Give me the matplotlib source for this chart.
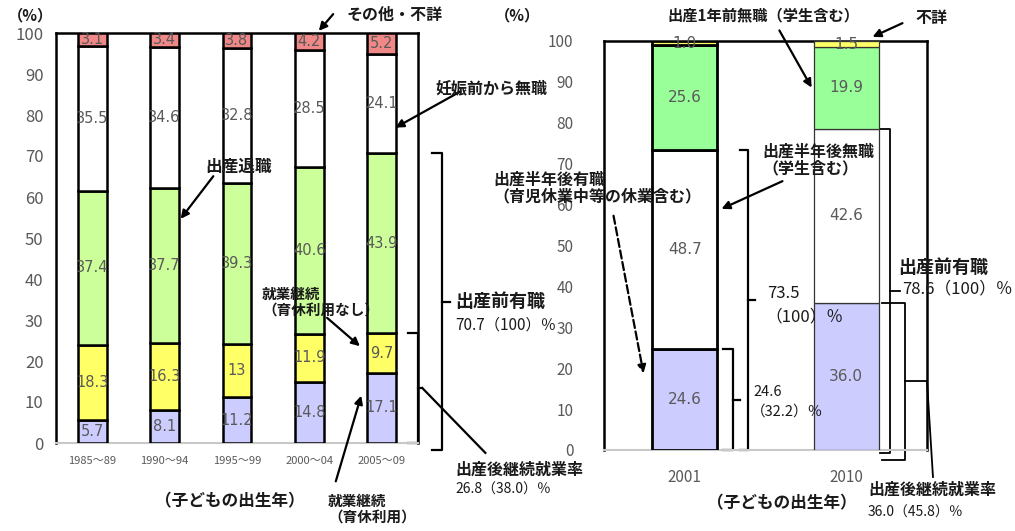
import numpy as np
import matplotlib
matplotlib.use('Agg')
import matplotlib.pyplot as plt

plt.rcParams['font.family'] = ['Noto Sans CJK JP', 'DejaVu Sans']

# left chart: 第1子出生年別 就業変化
periods = ['1985～89', '1990～94', '1995～99', '2000～04', '2005～09']
ikukyu_ari = [5.7, 8.1, 11.2, 14.8, 17.1]      # 就業継続（育休利用）
ikukyu_nashi = [18.3, 16.3, 13, 11.9, 9.7]     # 就業継続（育休利用なし）
taishoku = [37.4, 37.7, 39.3, 40.6, 43.9]      # 出産退職
mushoku = [35.5, 34.6, 32.8, 28.5, 24.1]       # 妊娠前から無職
fusho = [3.1, 3.4, 3.8, 4.2, 5.2]              # その他・不詳

# right chart: 2001 / 2010
years = ['2001', '2010']
yushoku_after = [24.6, 36.0]    # 出産半年後有職
mushoku_after = [48.7, 42.6]    # 出産半年後無職
mushoku_before = [25.6, 19.9]   # 出産1年前無職
fusho_r = [1.0, 1.5]            # 不詳

W, H = 1015, 531
fig = plt.figure(figsize=(W / 100, H / 100), dpi=100)
gray = '#595959'


def fr(x, y):
    return (x / W, 1 - y / H)


def txt(x, y, s, size=11.5, bold=True, **kw):
    fig.text(x / W, 1 - y / H, s, fontsize=size, ha='left', va='center',
             fontweight='bold' if bold else 'normal', color='#1a1a1a', **kw)


def arrow(x0, y0, x1, y1, ls='-'):
    fig.add_artist(matplotlib.patches.FancyArrowPatch(
        fr(x0, y0), fr(x1, y1), transform=fig.transFigure,
        arrowstyle='-|>', mutation_scale=12, lw=1.6, color='black', linestyle=ls))


def bracket(ax, x0, x1, y0, y1, xm, lw=1.6):
    ym = (y0 + y1) / 2
    ax.plot([x0, x1, x1, x0], [y1, y1, y0, y0], color='black', lw=lw, clip_on=False)
    ax.plot([x1, xm], [ym, ym], color='black', lw=lw, clip_on=False)
    return ym


def stack(ax, xs, series, colors, width, lw):
    bottom = np.zeros(len(xs))
    for vals, c in zip(series, colors):
        vals = np.array(vals, dtype=float)
        ax.bar(xs, vals, width, bottom=bottom, color=c, edgecolor='black', linewidth=lw, zorder=3)
        for x, b, v in zip(xs, bottom, vals):
            ax.text(x, b + v / 2, f'{v:g}', ha='center', va='center',
                    fontsize=10.5, color=gray, family='DejaVu Sans', zorder=4)
        bottom += vals
    return bottom


def style(ax, pad, size):
    ax.set_ylim(0, 100)
    ax.set_yticks(range(0, 101, 10))
    ax.tick_params(axis='y', length=0, pad=pad, labelsize=size, labelcolor=gray)
    for s in ['left', 'right', 'top']:
        ax.spines[s].set_linewidth(1.8)
    ax.spines['bottom'].set_color('#c8c8c8')
    ax.spines['bottom'].set_linewidth(1.5)


# ---- left panel
ax1 = fig.add_axes([56 / W, 1 - 443 / H, 362 / W, 410 / H])
x1 = np.arange(len(periods))
stack(ax1, x1, [ikukyu_ari, ikukyu_nashi, taishoku, mushoku, fusho],
      ['#ccccff', '#ffff66', '#ccff99', 'white', '#f08888'], 0.4, 1.8)
ax1.set_xlim(-0.5, len(periods) - 0.5)
ax1.set_xticks(x1, periods)
ax1.tick_params(axis='x', length=0, pad=9, labelsize=8, labelcolor=gray)
style(ax1, 9, 12)

last = len(periods) - 1
zenyu = ikukyu_ari[last] + ikukyu_nashi[last] + taishoku[last]
keizoku = ikukyu_ari[last] + ikukyu_nashi[last]
bracket(ax1, 4.69, 4.83, -1.7, zenyu, 4.94)
ym = bracket(ax1, 4.36, 4.5, 0, keizoku, 4.56)
ax1.plot([4.56, 5.43], [ym, -2.4], color='black', lw=1.6, clip_on=False)

# ---- right panel
ax2 = fig.add_axes([604 / W, 1 - 450 / H, 323 / W, 409 / H])
x2 = np.arange(len(years))
series_r = [yushoku_after, mushoku_after, mushoku_before, fusho_r]
colors_r = ['#ccccff', 'white', '#99ff99', '#ffff66']
bottom = np.zeros(2)
for vals, c in zip(series_r, colors_r):
    vals = np.array(vals)
    ax2.bar(x2[0], vals[0], 0.4, bottom=bottom[0], color=c, edgecolor='black', linewidth=2.0, zorder=3)
    ax2.bar(x2[1], vals[1], 0.4, bottom=bottom[1], color=c, edgecolor='#333333', linewidth=0.9, zorder=3)
    for x, b, v in zip(x2, bottom, vals):
        ax2.text(x, b + v / 2, f'{v:.1f}', ha='center', va='center',
                 fontsize=11, color=gray, family='DejaVu Sans', zorder=4)
    bottom += vals
ax2.set_xlim(-0.5, 1.5)
ax2.set_xticks(x2, years)
ax2.tick_params(axis='x', length=0, pad=14, labelsize=11, labelcolor=gray)
style(ax2, 22, 11)

yu01 = yushoku_after[0] + mushoku_after[0]
yu10 = yushoku_after[1] + mushoku_after[1]
bracket(ax2, 0.237, 0.299, 0, yushoku_after[0], 0.342)
bracket(ax2, 0.342, 0.392, 0, yu01, 0.435)
bracket(ax2, 1.209, 1.271, -0.7, yu10, 1.333, lw=1.3)
ym = bracket(ax2, 1.221, 1.364, -2.4, yushoku_after[1], 1.5, lw=1.3)
ax2.plot([1.5, 1.537], [ym, -6.6], color='black', lw=1.3, clip_on=False)

# ---- text and arrows, left
txt(8, 15, '（%）', 11)
txt(347, 15, 'その他・不詳', 11.5)
arrow(335, 12, 317, 33)
txt(435, 88, '妊娠前から無職', 11.5)
arrow(463, 90, 393, 129)
txt(205, 167, '出産退職', 12)
arrow(215, 174, 179, 221)
txt(262, 302, '就業継続\n（育休利用なし）', 10.5, linespacing=1.1)
arrow(325, 316, 362, 348)
txt(328, 509, '就業継続\n（育休利用）', 10.5, linespacing=1.1)
arrow(335, 484, 362, 393)
txt(155, 501, '（子どもの出生年）', 12)
txt(455, 301, '出産前有職', 13)
txt(455, 325, '70.7（100）％', 11, bold=False)
txt(455, 470, '出産後継続就業率', 11.5)
txt(455, 490, '26.8（38.0）％', 10, bold=False)

# ---- text and arrows, right
txt(495, 15, '（%）', 11)
txt(667, 15, '出産1年前無職（学生含む）', 11)
arrow(778, 28, 813, 90)
txt(915, 18, '不詳', 11.5)
arrow(905, 22, 870, 38)
txt(762, 160, '出産半年後無職\n（学生含む）', 11.5, linespacing=1.1)
arrow(785, 180, 719, 210)
txt(493, 188, '出産半年後有職\n（育児休業中等の休業含む）', 11.5, linespacing=1.1)
arrow(613, 213, 644, 376, ls='--')
txt(767, 293, '73.5', 12, bold=False)
txt(765, 317, '（100）％', 12, bold=False)
txt(753, 392, '24.6', 10.5, bold=False)
txt(751, 412, '（32.2）％', 10.5, bold=False)
txt(898, 267, '出産前有職', 13)
txt(902, 289, '78.6（100）％', 12, bold=False)
txt(868, 490, '出産後継続就業率', 11.5)
txt(868, 513, '36.0（45.8）％', 10, bold=False)
txt(707, 503, '（子どもの出生年）', 12)

fig.savefig('out.png', dpi=100)
